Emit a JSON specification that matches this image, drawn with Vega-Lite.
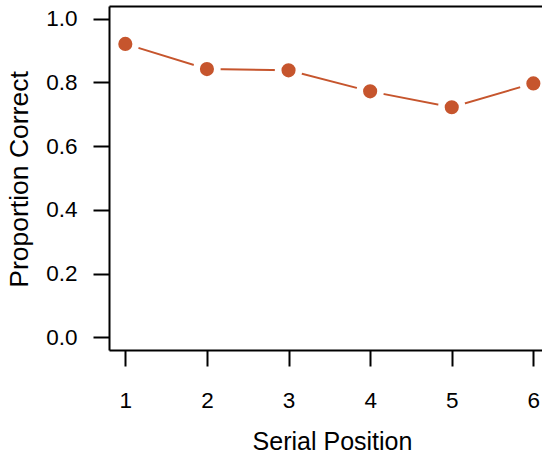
{
  "$schema": "https://vega.github.io/schema/vega-lite/v6.json",
  "autosize": {"type": "none"},
  "padding": {"left": 109, "top": 6, "right": 0, "bottom": 105},
  "width": 433,
  "height": 344,
  "background": "white",
  "config": {
    "view": {"stroke": null},
    "font": "Liberation Sans",
    "axis": {
      "grid": false,
      "domainColor": "black",
      "domainWidth": 2,
      "tickColor": "black",
      "tickWidth": 2,
      "tickSize": 16,
      "labelColor": "black",
      "labelFont": "Liberation Sans",
      "labelFontSize": 22.5,
      "titleFont": "Liberation Sans",
      "titleFontSize": 25,
      "titleFontWeight": "normal",
      "titleColor": "black"
    }
  },
  "data": {
    "values": [
      {"pos": 1, "p": 0.921},
      {"pos": 2, "p": 0.842},
      {"pos": 3, "p": 0.838},
      {"pos": 4, "p": 0.772},
      {"pos": 5, "p": 0.722},
      {"pos": 6, "p": 0.797}
    ]
  },
  "resolve": {"axis": {"x": "independent", "y": "independent"}},
  "layer": [
    {
      "mark": {"type": "line", "color": "#C6552D", "strokeWidth": 2},
      "encoding": {
        "x": {
          "field": "pos", "type": "quantitative",
          "scale": {"domain": [0.8, 6.106], "nice": false, "zero": false},
          "axis": {
            "values": [1, 2, 3, 4, 5, 6],
            "format": "d",
            "labelPadding": 23,
            "labelBaseline": "top",
            "title": "Serial Position",
            "titleX": 223,
            "titleY": 99,
            "titleAlign": "center",
            "titleBaseline": "alphabetic"
          }
        },
        "y": {
          "field": "p", "type": "quantitative",
          "scale": {"domain": [-0.04, 1.04], "nice": false, "zero": false},
          "axis": {
            "values": [0, 0.2, 0.4, 0.6, 0.8, 1.0],
            "format": ".1f",
            "labelPadding": 16,
            "title": "Proportion Correct",
            "titleFontSize": 26.5,
            "titleX": -90,
            "titleY": 173,
            "titleAngle": -90,
            "titleAlign": "center",
            "titleBaseline": "middle"
          }
        }
      }
    },
    {
      "mark": {"type": "point", "filled": true, "color": "white", "opacity": 1, "size": 755},
      "encoding": {
        "x": {
          "field": "pos", "type": "quantitative",
          "axis": {"orient": "top", "labels": false, "ticks": false, "title": null, "grid": false}
        },
        "y": {
          "field": "p", "type": "quantitative",
          "axis": null
        }
      }
    },
    {
      "mark": {"type": "point", "filled": true, "color": "#C6552D", "opacity": 1, "size": 200},
      "encoding": {
        "x": {"field": "pos", "type": "quantitative", "axis": null},
        "y": {"field": "p", "type": "quantitative", "axis": null}
      }
    }
  ]
}
